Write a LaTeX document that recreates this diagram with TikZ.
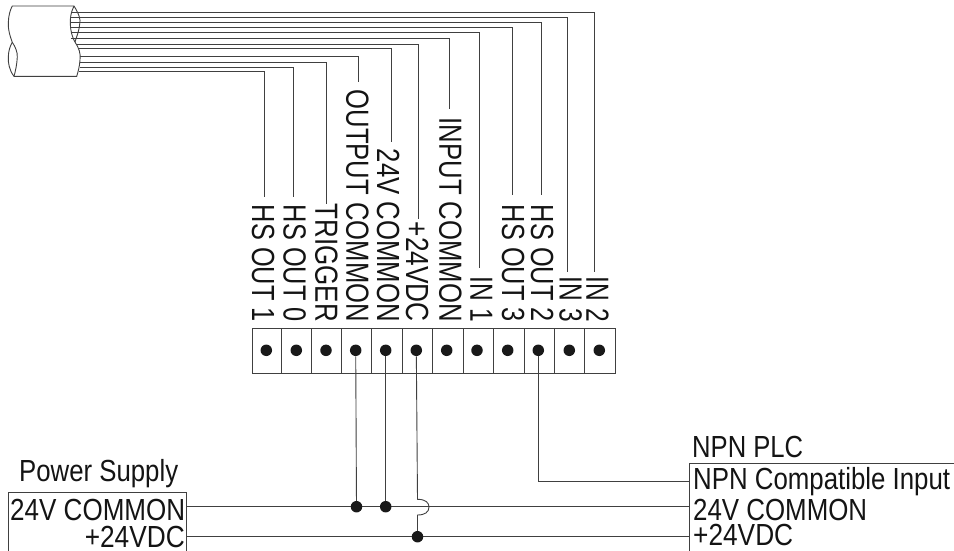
\documentclass[tikz,border=0pt]{standalone}
\usepackage{fontspec}
\usepackage{graphicx}
\setmainfont{Liberation Sans}
\newcommand{\fitw}[2]{\resizebox{#1pt}{\height}{#2}}
\tikzset{
  wire/.style={draw=black!75,line width=0.9pt},
  vlabel/.style={rotate=-90,anchor=base east,inner sep=0pt,font=\fontsize{32}{32}\selectfont,text=black!92},
  hlabel/.style={anchor=base west,inner sep=0pt,font=\fontsize{30.5}{30.5}\selectfont,text=black!92},
  termcell/.style={draw=black!75,line width=0.9pt,minimum height=44.4pt,inner sep=0pt,anchor=north west},
  termdot/.style={circle,fill=black!90,minimum size=11.5pt,inner sep=0pt},
  joint/.style={circle,fill=black!90,minimum size=11.5pt,inner sep=0pt},
  devbox/.style={draw=black!75,line width=0.9pt,rectangle,inner sep=0pt,anchor=north west},
}
\begin{document}
\begin{tikzpicture}[x=1pt,y=-1pt]
\path[use as bounding box,clip] (0,0) rectangle (954,550);
\fill[white] (0,0) rectangle (954,550);

% wires out of the cable
\foreach \n/\sx/\yy/\xx/\ey in {
 a/71/12/594.7/272, b/71/17.3/567.3/272, c/71/22.3/541.3/195, d/71/27.3/512.3/195,
 e/71/32.3/479.3/268, f/71/38.3/449.7/109, g/76/44.3/418.3/219, h/79/48.7/391.7/141.7,
 i/80/56.7/358/82, j/80/62.3/326.3/204, k/80/67.3/293.3/197, l/79/71/264.3/197}{
  \coordinate (s\n) at (\sx,\yy);
  \coordinate (c\n) at (\xx,\yy);
  \coordinate (t\n) at (\xx,\ey);
  \draw[wire] (s\n) -- (c\n) -- (t\n);
}

% cable
\filldraw[fill=white,draw=black!75,line width=0.9pt]
  (12.3,6) -- (74,6) .. controls (79,14) and (81,20) .. (79.7,24)
  .. controls (79,32) and (76,38) .. (75,42)
  .. controls (79,48) and (81,54) .. (80,60)
  .. controls (79.5,67) and (78,72) .. (76.7,76.3)
  -- (14,76.3) .. controls (9,70) and (8,62) .. (8.3,57)
  .. controls (8.5,51) and (10,46) .. (12.3,42.3)
  .. controls (10,36) and (8,30) .. (8.3,23)
  .. controls (8.5,16) and (10,10) .. (12.3,6) -- cycle;
\draw[black!75,line width=0.9pt] (74,6) .. controls (71,12) and (70,18) .. (70.3,24)
  .. controls (70.5,31) and (72.5,38) .. (75,42);
\draw[black!75,line width=0.9pt] (12.3,42.3) .. controls (15.5,47) and (17.5,52) .. (17.3,57)
  .. controls (17,64) and (15.5,71) .. (14,76.3);
\foreach \yy in {12,17.3,22.3,27.3,32.3,38.3}{
  \draw[wire] (70.8,\yy) -- (80,\yy);
}

% terminal block
\foreach \n/\xa/\xb/\dx in {
 1/251.7/281.3/266.3, 2/281.3/311.3/296.3, 3/311.3/341.3/326, 4/341.3/370.7/355.7,
 5/370.7/401.7/385.7, 6/401.7/431.7/416.3, 7/431.7/462.7/446.7, 8/462.7/492.7/477,
 9/492.7/523.7/507.7, 10/523.7/553.7/538.3, 11/553.7/584.3/569.3, 12/584.3/615/599.3}{
  \pgfmathsetmacro{\cellw}{\xb-\xa}
  \node[termcell,minimum width=\cellw pt] (cell\n) at (\xa,328.3) {};
  \node[termdot] (term\n) at (\dx,350.3) {};
}

% rotated labels
\node[vlabel] (l1) at (252,322) {\fitw{117}{HS OUT 1}};
\node[vlabel] (l2) at (283.6,322) {\fitw{117}{HS OUT 0}};
\node[vlabel] (l3) at (315.3,322) {\fitw{118}{TRIGGER}};
\node[vlabel] (l4) at (346.3,322) {\fitw{232}{OUTPUT COMMON}};
\node[vlabel] (l5) at (377,322) {\fitw{173}{24V COMMON}};
\node[vlabel] (l6) at (406,322) {\fitw{100}{+24VDC}};
\node[vlabel] (l7) at (439.3,322) {\fitw{204}{INPUT COMMON}};
\node[vlabel] (l8) at (470.3,322) {\fitw{45}{IN 1}};
\node[vlabel] (l9) at (502,322) {\fitw{117}{HS OUT 3}};
\node[vlabel] (l10) at (531,322) {\fitw{117}{HS OUT 2}};
\node[vlabel] (l11) at (559.6,322) {\fitw{45}{IN 3}};
\node[vlabel] (l12) at (586.3,322) {\fitw{45}{IN 2}};

% devices
\node[devbox,minimum width=177.7pt,minimum height=80pt] (ps) at (8.3,492.3) {};
\node[devbox,minimum width=300pt,minimum height=110pt] (plc) at (689,462.7) {};
\node[hlabel] (pst) at (19,481.7) {\fitw{159}{Power Supply}};
\node[hlabel] (psa) at (10,520) {\fitw{175}{24V COMMON}};
\node[hlabel,anchor=base east] (psb) at (185,547.7) {\fitw{100}{+24VDC}};
\node[hlabel] (plct) at (692,457) {\fitw{111}{NPN PLC}};
\node[hlabel] (plca) at (693,489) {\fitw{257}{NPN Compatible Input}};
\node[hlabel] (plcb) at (693,520) {\fitw{174}{24V COMMON}};
\node[hlabel] (plcc) at (693,545) {\fitw{100}{+24VDC}};

% power wiring
\coordinate (psC) at (186,506.7);
\coordinate (psP) at (186,536.7);
\coordinate (plcC) at (689,506.7);
\coordinate (plcP) at (689,536.7);
\coordinate (plcI) at (689,481.7);
\draw[wire] (psC) -- (plcC);
\draw[wire] (psP) -- (plcP);
\node[joint] (j1) at (356.5,506.7) {};
\node[joint] (j2) at (385.7,506.7) {};
\node[joint] (j3) at (417.5,536.7) {};
\draw[wire] (term4) -- (j1);
\draw[wire] (term5) -- (j2);
\draw[wire] (term6) -- (417.5,499.3) .. controls (426,499.3) and (429,503) .. (429,507)
  .. controls (429,512) and (425,515) .. (417.5,515) -- (j3);
\draw[wire] (term10) |- (plcI);
\end{tikzpicture}
\end{document}
